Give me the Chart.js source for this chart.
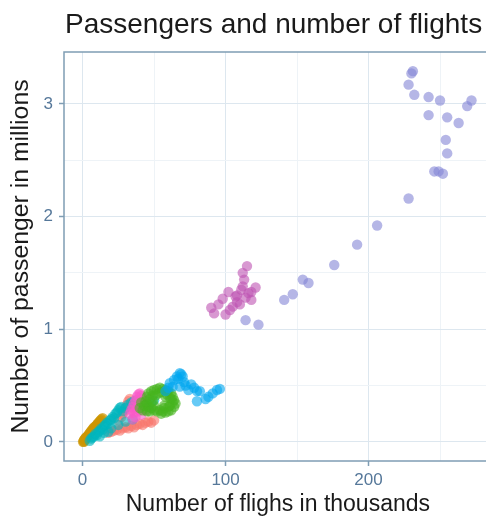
<!DOCTYPE html>
<html>
<head>
<meta charset="utf-8">
<script src="https://cdn.jsdelivr.net/npm/chart.js@4/dist/chart.umd.min.js"></script>
<style>
  html, body { margin: 0; padding: 0; background: #ffffff; overflow: hidden; }
  #wrap { width: 486px; height: 521px; overflow: hidden; }
</style>
</head>
<body>
<div id="wrap"><canvas id="flightsChart" width="497" height="521"></canvas></div>
<script>
// tick positions (major ticks get labels, the others are minor grid lines)
var xTicks = [0, 50, 100, 150, 200, 250];
var yTicks = [0, 0.5, 1, 1.5, 2, 2.5, 3];
var xLabels = ['0', '', '100', '', '200', ''];
var yLabels = ['0', '', '1', '', '2', '', '3'];

// groups: flights (thousands) and passengers (millions)
var orangeFlights = [0.3, 0.8, 1.2, 1.8, 2.3, 2.9, 3.4, 4.0, 4.6, 5.1, 5.7, 6.3, 6.9, 7.5, 8.1, 8.7, 9.3, 9.9, 10.5, 11.2, 11.8, 12.5, 13.2, 14.0, 1.0, 2.0];
var orangePassengers = [0.00, 0.01, 0.02, 0.03, 0.04, 0.04, 0.05, 0.06, 0.07, 0.08, 0.09, 0.10, 0.11, 0.12, 0.13, 0.13, 0.14, 0.15, 0.16, 0.17, 0.18, 0.19, 0.20, 0.21, 0.00, 0.02];

var tealFlights = [5, 6, 7, 8, 9, 10, 11, 12, 13, 14, 15, 16, 17, 18, 19, 20, 21, 22, 23, 24, 25, 26, 27, 28, 30, 32, 34, 36, 44, 46, 48, 50, 15, 20, 25, 30, 35, 12, 18];
var tealPassengers = [0.01, 0.03, 0.04, 0.05, 0.07, 0.06, 0.09, 0.10, 0.12, 0.11, 0.14, 0.15, 0.17, 0.16, 0.19, 0.20, 0.22, 0.21, 0.25, 0.26, 0.28, 0.30, 0.31, 0.27, 0.30, 0.33, 0.35, 0.36, 0.33, 0.31, 0.35, 0.37, 0.08, 0.12, 0.15, 0.18, 0.20, 0.05, 0.09];

var salmonFlights = [18, 20, 22, 24, 26, 28, 30, 32, 34, 36, 38, 40, 42, 44, 46, 48, 50, 29, 30, 31, 32, 33, 34, 35, 36, 27, 28, 25];
var salmonPassengers = [0.08, 0.09, 0.10, 0.11, 0.10, 0.12, 0.13, 0.12, 0.14, 0.13, 0.15, 0.16, 0.15, 0.17, 0.18, 0.17, 0.19, 0.27, 0.30, 0.33, 0.36, 0.38, 0.34, 0.31, 0.29, 0.22, 0.25, 0.19];

var pinkFlights = [33, 34, 35, 36, 37, 38, 39, 40, 41, 42, 38, 40, 42, 43, 36, 39, 41, 44, 37, 35];
var pinkPassengers = [0.25, 0.28, 0.31, 0.34, 0.37, 0.40, 0.42, 0.43, 0.41, 0.39, 0.30, 0.33, 0.36, 0.30, 0.26, 0.27, 0.24, 0.28, 0.22, 0.20];

var greenFlights = [42, 43, 44, 45, 46, 48, 50, 52, 54, 56, 58, 60, 62, 63, 64, 65, 64, 62, 60, 58, 56, 54, 52, 50, 48, 46, 45, 47, 49, 55, 57, 61, 63, 45, 40, 41, 53, 59, 61, 50, 47, 55, 51, 58, 60, 49, 57, 62];
var greenPassengers = [0.28, 0.32, 0.36, 0.40, 0.43, 0.45, 0.46, 0.47, 0.48, 0.47, 0.46, 0.45, 0.43, 0.40, 0.37, 0.34, 0.31, 0.28, 0.27, 0.26, 0.27, 0.28, 0.27, 0.28, 0.30, 0.31, 0.34, 0.38, 0.41, 0.44, 0.30, 0.32, 0.35, 0.27, 0.30, 0.35, 0.43, 0.42, 0.39, 0.32, 0.27, 0.25, 0.41, 0.40, 0.31, 0.36, 0.32, 0.38];

var blueFlights = [61, 63, 64, 66, 67, 68, 69, 70, 71, 68, 72, 74, 76, 78, 80, 82, 80, 86, 88, 91, 94, 96, 58, 60];
var bluePassengers = [0.52, 0.49, 0.55, 0.58, 0.56, 0.61, 0.60, 0.58, 0.53, 0.49, 0.50, 0.46, 0.51, 0.48, 0.45, 0.45, 0.36, 0.38, 0.40, 0.43, 0.46, 0.47, 0.45, 0.48];

var magentaFlights = [115, 113, 112, 121, 102, 98, 114, 118, 108, 105, 90, 92, 100, 111, 112, 107, 95, 103, 108, 110, 116, 118];
var magentaPassengers = [1.56, 1.44, 1.38, 1.37, 1.33, 1.27, 1.28, 1.26, 1.24, 1.20, 1.19, 1.14, 1.13, 1.35, 1.50, 1.29, 1.22, 1.17, 1.30, 1.22, 1.32, 1.33];

var lavenderFlights = [231, 230, 228, 232, 242, 250, 269, 272, 242, 255, 263, 254, 255, 246, 249, 252, 228, 206, 192, 176, 154, 158, 147, 141, 114, 123];
var lavenderPassengers = [3.29, 3.27, 3.17, 3.08, 3.06, 3.03, 2.98, 3.03, 2.90, 2.88, 2.83, 2.68, 2.56, 2.40, 2.40, 2.38, 2.16, 1.92, 1.75, 1.57, 1.44, 1.41, 1.31, 1.26, 1.08, 1.04];

function toPoints(xs, ys) {
    return xs.map(function (x, i) { return { x: x, y: ys[i] }; });
}

function group(xs, ys, color) {
    return {
        data: toPoints(xs, ys),
        backgroundColor: color,
        borderWidth: 0,
        pointRadius: 5.2,
        pointHoverRadius: 5.2
    };
}

var frameColor = '#7f9db4';
var tickTextColor = '#56789a';
var fontFamily = '"Liberation Sans", Arial, sans-serif';

function lineColor(ctx) {
    var label = ctx.tick && ctx.tick.label;
    return label ? '#dde7ef' : '#eef3f7';
}
function markColor(ctx) {
    var label = ctx.tick && ctx.tick.label;
    return label ? frameColor : 'rgba(0,0,0,0)';
}

// title left aligned on the panel, and the panel frame
var panelPlugin = {
    id: 'panel',
    afterDraw: function (chart) {
        var c = chart.ctx, a = chart.chartArea;
        c.save();
        c.strokeStyle = frameColor;
        c.lineWidth = 1.5;
        c.strokeRect(a.left, a.top, a.right - a.left, a.bottom - a.top);
        c.fillStyle = '#1a1a1a';
        c.font = '28px ' + fontFamily;
        c.textBaseline = 'alphabetic';
        c.textAlign = 'left';
        c.fillText('Passengers and number of flights', a.left + 1, 33);
        c.restore();
    }
};

var ctx = document.getElementById('flightsChart').getContext('2d');
var flightsChart = new Chart(ctx, {
    type: 'scatter',
    data: {
        datasets: [
            group(lavenderFlights, lavenderPassengers, 'rgba(132,134,214,0.6)'),
            group(magentaFlights, magentaPassengers, 'rgba(190,84,178,0.6)'),
            group(blueFlights, bluePassengers, 'rgba(0,166,240,0.6)'),
            group(greenFlights, greenPassengers, 'rgba(70,180,30,0.6)'),
            group(pinkFlights, pinkPassengers, 'rgba(250,90,200,0.6)'),
            group(tealFlights, tealPassengers, 'rgba(0,182,190,0.6)'),
            group(salmonFlights, salmonPassengers, 'rgba(248,118,109,0.6)'),
            group(orangeFlights, orangePassengers, 'rgba(205,150,0,0.7)')
        ]
    },
    options: {
        responsive: false,
        animation: false,
        layout: { padding: { top: 52, right: 0, left: 0, bottom: 0 } },
        plugins: {
            legend: { display: false },
            tooltip: { enabled: false },
            title: { display: false }
        },
        scales: {
            x: {
                type: 'linear',
                min: -13,
                max: 286.2,
                afterBuildTicks: function (scale) {
                    scale.ticks = xTicks.map(function (v) { return { value: v }; });
                },
                afterFit: function (scale) { scale.height = 60; },
                border: { display: false },
                grid: { color: lineColor, tickColor: markColor, tickLength: 5, lineWidth: 1, tickWidth: 1.5 },
                ticks: {
                    color: tickTextColor,
                    font: { size: 17, family: fontFamily },
                    padding: 4,
                    maxRotation: 0,
                    autoSkip: false,
                    callback: function (value) { return xLabels[xTicks.indexOf(value)]; }
                },
                title: {
                    display: true,
                    text: 'Number of flighs in thousands',
                    color: '#1a1a1a',
                    font: { size: 23, family: fontFamily },
                    padding: { top: 0, bottom: 3 }
                }
            },
            y: {
                type: 'linear',
                min: -0.17,
                max: 3.46,
                afterBuildTicks: function (scale) {
                    scale.ticks = yTicks.map(function (v) { return { value: v }; });
                },
                afterFit: function (scale) { scale.width = 64; },
                border: { display: false },
                grid: { color: lineColor, tickColor: markColor, tickLength: 5, lineWidth: 1, tickWidth: 1.5 },
                ticks: {
                    color: tickTextColor,
                    font: { size: 17, family: fontFamily },
                    padding: 6,
                    autoSkip: false,
                    callback: function (value) { return yLabels[yTicks.indexOf(value)]; }
                },
                title: {
                    display: true,
                    text: 'Number of passenger in millions',
                    color: '#1a1a1a',
                    font: { size: 24.8, family: fontFamily },
                    padding: { top: 6, bottom: 0 }
                }
            }
        }
    },
    plugins: [panelPlugin]
});
</script>
</body>
</html>
